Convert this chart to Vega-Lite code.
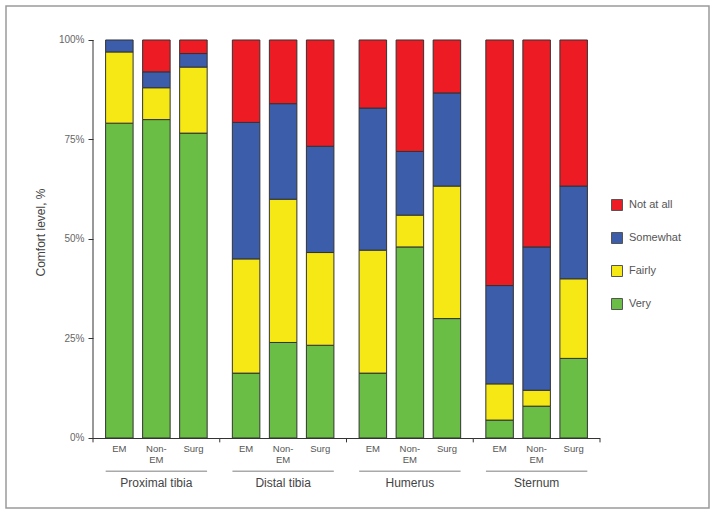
{
  "$schema": "https://vega.github.io/schema/vega-lite/v6.json",
  "width": 703,
  "height": 502,
  "autosize": {"type": "none"},
  "padding": {"left": 6, "top": 6, "right": 7, "bottom": 7},
  "background": "white",
  "config": {
    "view": {"stroke": "#9a9a9a", "strokeWidth": 1.5},
    "font": "Liberation Sans"
  },
  "data": {
    "values": [
      {"group": "Proximal tibia", "sub": "EM", "level": "Very", "value": 79.1},
      {"group": "Proximal tibia", "sub": "EM", "level": "Fairly", "value": 17.9},
      {"group": "Proximal tibia", "sub": "EM", "level": "Somewhat", "value": 3.0},
      {"group": "Proximal tibia", "sub": "Non-EM", "level": "Very", "value": 80},
      {"group": "Proximal tibia", "sub": "Non-EM", "level": "Fairly", "value": 8},
      {"group": "Proximal tibia", "sub": "Non-EM", "level": "Somewhat", "value": 4},
      {"group": "Proximal tibia", "sub": "Non-EM", "level": "Not at all", "value": 8},
      {"group": "Proximal tibia", "sub": "Surg", "level": "Very", "value": 76.6},
      {"group": "Proximal tibia", "sub": "Surg", "level": "Fairly", "value": 16.6},
      {"group": "Proximal tibia", "sub": "Surg", "level": "Somewhat", "value": 3.4},
      {"group": "Proximal tibia", "sub": "Surg", "level": "Not at all", "value": 3.4},
      {"group": "Distal tibia", "sub": "EM", "level": "Very", "value": 16.3},
      {"group": "Distal tibia", "sub": "EM", "level": "Fairly", "value": 28.7},
      {"group": "Distal tibia", "sub": "EM", "level": "Somewhat", "value": 34.3},
      {"group": "Distal tibia", "sub": "EM", "level": "Not at all", "value": 20.7},
      {"group": "Distal tibia", "sub": "Non-EM", "level": "Very", "value": 24},
      {"group": "Distal tibia", "sub": "Non-EM", "level": "Fairly", "value": 36},
      {"group": "Distal tibia", "sub": "Non-EM", "level": "Somewhat", "value": 24},
      {"group": "Distal tibia", "sub": "Non-EM", "level": "Not at all", "value": 16},
      {"group": "Distal tibia", "sub": "Surg", "level": "Very", "value": 23.3},
      {"group": "Distal tibia", "sub": "Surg", "level": "Fairly", "value": 23.3},
      {"group": "Distal tibia", "sub": "Surg", "level": "Somewhat", "value": 26.7},
      {"group": "Distal tibia", "sub": "Surg", "level": "Not at all", "value": 26.7},
      {"group": "Humerus", "sub": "EM", "level": "Very", "value": 16.3},
      {"group": "Humerus", "sub": "EM", "level": "Fairly", "value": 30.9},
      {"group": "Humerus", "sub": "EM", "level": "Somewhat", "value": 35.7},
      {"group": "Humerus", "sub": "EM", "level": "Not at all", "value": 17.1},
      {"group": "Humerus", "sub": "Non-EM", "level": "Very", "value": 48},
      {"group": "Humerus", "sub": "Non-EM", "level": "Fairly", "value": 8},
      {"group": "Humerus", "sub": "Non-EM", "level": "Somewhat", "value": 16},
      {"group": "Humerus", "sub": "Non-EM", "level": "Not at all", "value": 28},
      {"group": "Humerus", "sub": "Surg", "level": "Very", "value": 30},
      {"group": "Humerus", "sub": "Surg", "level": "Fairly", "value": 33.3},
      {"group": "Humerus", "sub": "Surg", "level": "Somewhat", "value": 23.4},
      {"group": "Humerus", "sub": "Surg", "level": "Not at all", "value": 13.3},
      {"group": "Sternum", "sub": "EM", "level": "Very", "value": 4.5},
      {"group": "Sternum", "sub": "EM", "level": "Fairly", "value": 9.1},
      {"group": "Sternum", "sub": "EM", "level": "Somewhat", "value": 24.7},
      {"group": "Sternum", "sub": "EM", "level": "Not at all", "value": 61.7},
      {"group": "Sternum", "sub": "Non-EM", "level": "Very", "value": 8},
      {"group": "Sternum", "sub": "Non-EM", "level": "Fairly", "value": 4},
      {"group": "Sternum", "sub": "Non-EM", "level": "Somewhat", "value": 36},
      {"group": "Sternum", "sub": "Non-EM", "level": "Not at all", "value": 52},
      {"group": "Sternum", "sub": "Surg", "level": "Very", "value": 20},
      {"group": "Sternum", "sub": "Surg", "level": "Fairly", "value": 20},
      {"group": "Sternum", "sub": "Surg", "level": "Somewhat", "value": 23.3},
      {"group": "Sternum", "sub": "Surg", "level": "Not at all", "value": 36.7}
    ]
  },
  "transform": [
    {"calculate": "indexof(['Very','Fairly','Somewhat','Not at all'], datum.level)", "as": "ord"}
  ],
  "encoding": {
    "x": {
      "field": "group",
      "type": "nominal",
      "sort": ["Proximal tibia", "Distal tibia", "Humerus", "Sternum"],
      "axis": null,
      "scale": {"paddingInner": 0, "paddingOuter": 0.7732, "align": 0.4439}
    }
  },
  "layer": [
    {
      "mark": {"type": "bar", "stroke": "#333333", "strokeWidth": 1},
      "encoding": {
        "xOffset": {"field": "sub", "type": "nominal", "sort": ["EM", "Non-EM", "Surg"], "scale": {"paddingInner": 0.257, "paddingOuter": 0.34}},
        "y": {
          "field": "value",
          "type": "quantitative",
          "stack": "zero",
          "title": "Comfort level, %",
          "scale": {"domain": [-17.59, 108.54], "nice": false, "zero": false},
          "axis": {
            "values": [0, 25, 50, 75, 100],
            "labelExpr": "datum.value + '%'",
            "domain": false,
            "grid": false,
            "ticks": true,
            "tickSize": 5,
            "tickColor": "#333333",
            "labelPadding": 4,
            "labelFontSize": 10,
            "labelColor": "#666666",
            "offset": -87,
            "titleX": -53,
            "titleY": 226,
            "titleAngle": -90,
            "titleBaseline": "middle",
            "titleFontSize": 12,
            "titleFontWeight": "normal",
            "titleColor": "#444444"
          }
        },
        "color": {
          "field": "level",
          "type": "nominal",
          "scale": {"domain": ["Not at all", "Somewhat", "Fairly", "Very"], "range": ["#ED1C24", "#3C5DA9", "#F5E814", "#6ABD45"]},
          "legend": {
            "orient": "none",
            "legendX": 605,
            "legendY": 193,
            "title": null,
            "symbolType": "square",
            "symbolSize": 121,
            "symbolStrokeColor": "#555555",
            "symbolStrokeWidth": 1,
            "labelFontSize": 11,
            "labelColor": "#555555",
            "rowPadding": 17,
            "labelOffset": 6,
            "padding": 0
          }
        },
        "order": {"field": "ord", "type": "quantitative"}
      }
    },
    {
      "transform": [{"filter": "datum.level == 'Very'"}],
      "mark": {"type": "text", "baseline": "top", "fontSize": 9.5, "color": "#555555", "lineHeight": 11.5},
      "encoding": {
        "xOffset": {"field": "sub", "type": "nominal", "sort": ["EM", "Non-EM", "Surg"]},
        "y": {"datum": -1.5},
        "text": {"condition": {"test": "datum.sub == 'Non-EM'", "value": ["Non-", "EM"]}, "field": "sub"}
      }
    },
    {
      "transform": [{"filter": "datum.level == 'Very' && datum.sub == 'EM'"}],
      "mark": {"type": "bar", "color": "#555555", "width": {"band": 0.8}},
      "encoding": {
        "y": {"datum": -8.2},
        "y2": {"datum": -8.45}
      }
    },
    {
      "transform": [{"filter": "datum.level == 'Very' && datum.sub == 'EM'"}],
      "mark": {"type": "text", "fontSize": 12, "color": "#444444", "baseline": "middle"},
      "encoding": {
        "y": {"datum": -11.38},
        "text": {"field": "group"}
      }
    },
    {
      "transform": [{"filter": "datum.level == 'Very' && datum.sub == 'EM'"}],
      "mark": {"type": "bar", "color": "#333333", "width": {"band": 1}},
      "encoding": {
        "y": {"datum": 0},
        "y2": {"datum": -0.25}
      }
    },
    {
      "transform": [{"filter": "datum.level == 'Very' && datum.sub == 'EM'"}],
      "mark": {"type": "rule", "color": "#333333", "strokeWidth": 1},
      "encoding": {
        "x": {"field": "group", "type": "nominal", "sort": ["Proximal tibia", "Distal tibia", "Humerus", "Sternum"], "bandPosition": 1},
        "y": {"datum": 0},
        "y2": {"datum": -1.1}
      }
    },
    {
      "transform": [{"filter": "datum.level == 'Very' && datum.sub == 'EM' && datum.group == 'Proximal tibia'"}],
      "mark": {"type": "rule", "color": "#333333", "strokeWidth": 1},
      "encoding": {
        "x": {"datum": "Proximal tibia", "bandPosition": 0},
        "y": {"datum": -1.1},
        "y2": {"datum": 100}
      }
    }
  ]
}
